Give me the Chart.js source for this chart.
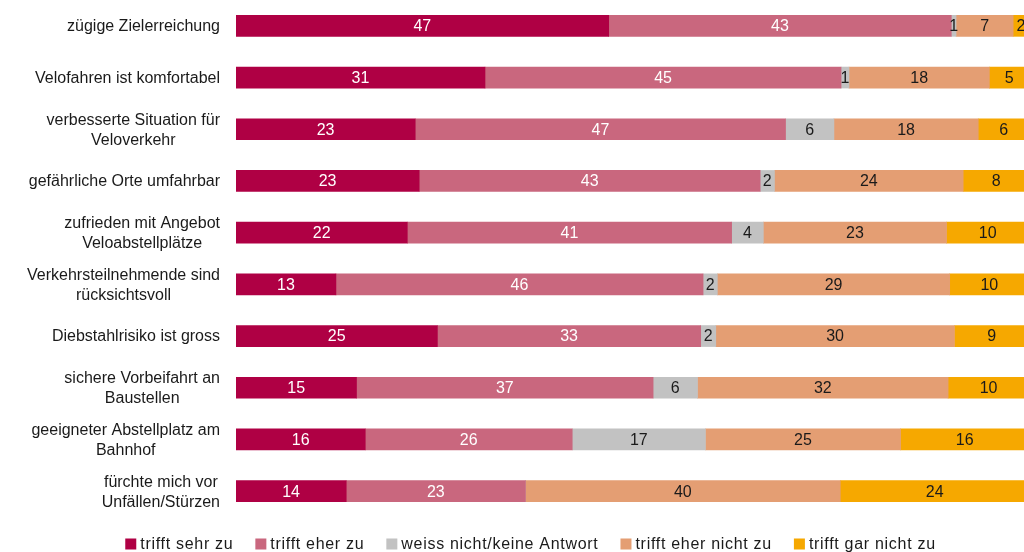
<!DOCTYPE html>
<html>
<head>
<meta charset="utf-8">
<script src="https://cdn.jsdelivr.net/npm/chart.js@4/dist/chart.umd.min.js"></script>
<style>
  html, body { margin: 0; padding: 0; background: #fff; overflow: hidden; }
  #wrap { width: 1040px; height: 552px; }
</style>
</head>
<body>
<div id="wrap"><canvas id="c" width="1040" height="552"></canvas></div>
<script>
const categories = [
  ["zügige Zielerreichung"],
  ["Velofahren ist komfortabel"],
  ["verbesserte Situation für", "Veloverkehr"],
  ["gefährliche Orte umfahrbar"],
  ["zufrieden mit Angebot", "Veloabstellplätze"],
  ["Verkehrsteilnehmende sind", "rücksichtsvoll"],
  ["Diebstahlrisiko ist gross"],
  ["sichere Vorbeifahrt an", "Baustellen"],
  ["geeigneter Abstellplatz am", "Bahnhof"],
  ["fürchte mich vor", "Unfällen/Stürzen"]
];
const seriesNames = ["trifft sehr zu", "trifft eher zu", "weiss nicht/keine Antwort", "trifft eher nicht zu", "trifft gar nicht zu"];
const sehrZu     = [47.0, 31.4, 22.6, 23.1, 21.6, 12.6, 25.4, 15.2, 16.3, 13.9];
const eherZu     = [43.2, 44.9, 46.7, 43.0, 40.9, 46.3, 33.2, 37.4, 26.1, 22.6];
const weissNicht = [0.6, 1.0, 6.1, 1.8, 4.0, 1.8, 1.9, 5.6, 16.8, 0];
const eherNicht  = [7.2, 17.7, 18.2, 23.8, 23.1, 29.3, 30.1, 31.6, 24.6, 39.7];
const garNicht   = [2.0, 5.0, 6.4, 8.3, 10.4, 10.0, 9.4, 10.2, 16.2, 23.8];

const colors = ["#AF0044", "#C9677E", "#C2C2C2", "#E49E73", "#F6A800"];
const labelColors = ["#ffffff", "#ffffff", "#1a1a1a", "#1a1a1a", "#1a1a1a"];
const FONT = '"Liberation Sans", Arial, sans-serif';

const seriesData = [sehrZu, eherZu, weissNicht, eherNicht, garNicht];

const valueLabels = {
  id: 'valueLabels',
  afterDatasetsDraw(chart) {
    const ctx = chart.ctx;
    ctx.save();
    ctx.font = '16px ' + FONT;
    ctx.textAlign = 'center';
    ctx.textBaseline = 'middle';
    chart.data.datasets.forEach((ds, di) => {
      const meta = chart.getDatasetMeta(di);
      meta.data.forEach((bar, i) => {
        const v = ds.data[i];
        if (!v) return;
        const cx = (bar.x + bar.base) / 2;
        ctx.fillStyle = labelColors[di];
        ctx.fillText(String(Math.round(v)), cx, bar.y + 1);
      });
    });
    ctx.restore();
  }
};

const categoryLabels = {
  id: 'categoryLabels',
  afterDraw(chart) {
    const ctx = chart.ctx;
    const ys = chart.scales.y;
    const rightEdge = chart.chartArea.left - 16;
    ctx.save();
    ctx.font = '16px ' + FONT;
    ctx.fillStyle = '#1a1a1a';
    ctx.textAlign = 'center';
    ctx.textBaseline = 'middle';
    const lh = 20;
    categories.forEach((lines, i) => {
      const y = ys.getPixelForValue(i);
      const w = Math.max(...lines.map(l => ctx.measureText(l).width));
      const cx = rightEdge - w / 2;
      const y0 = y - (lines.length - 1) * lh / 2;
      lines.forEach((l, k) => ctx.fillText(l, cx, y0 + k * lh + 1));
    });
    ctx.restore();
  }
};

const customLegend = {
  id: 'customLegend',
  afterDraw(chart) {
    const ctx = chart.ctx;
    ctx.save();
    ctx.font = '16px ' + FONT;
    try { ctx.letterSpacing = '0.7px'; } catch (e) {}
    const box = 11, gapText = 4, gapItem = 22;
    const items = chart.data.datasets.map((ds, i) => ({
      text: ds.label, color: ds.backgroundColor, w: ctx.measureText(ds.label).width
    }));
    const total = items.reduce((s, it) => s + box + gapText + it.w, 0) + gapItem * (items.length - 1);
    let x = 530.5 - total / 2;
    const yc = 544;
    ctx.textBaseline = 'middle';
    ctx.textAlign = 'left';
    items.forEach(it => {
      ctx.fillStyle = it.color;
      ctx.fillRect(x, yc - box / 2, box, box);
      ctx.fillStyle = '#1a1a1a';
      ctx.fillText(it.text, x + box + gapText, yc + 1);
      x += box + gapText + it.w + gapItem;
    });
    ctx.restore();
  }
};

new Chart(document.getElementById('c'), {
  type: 'bar',
  data: {
    labels: categories,
    datasets: seriesData.map((d, i) => ({
      label: seriesNames[i],
      data: d,
      backgroundColor: colors[i],
      borderWidth: 0,
      barThickness: 21
    }))
  },
  options: {
    indexAxis: 'y',
    responsive: false,
    animation: false,
    layout: { padding: { left: 0, right: 11, top: 0, bottom: 35 } },
    plugins: {
      legend: { display: false },
      tooltip: { enabled: false }
    },
    scales: {
      x: {
        stacked: true, min: 0, max: 100, display: false
      },
      y: {
        stacked: true,
        grid: { display: false, drawTicks: false },
        border: { display: false },
        ticks: { display: false },
        afterFit(scale) { scale.width = 236; }
      }
    }
  },
  plugins: [valueLabels, categoryLabels, customLegend]
});
</script>
</body>
</html>
